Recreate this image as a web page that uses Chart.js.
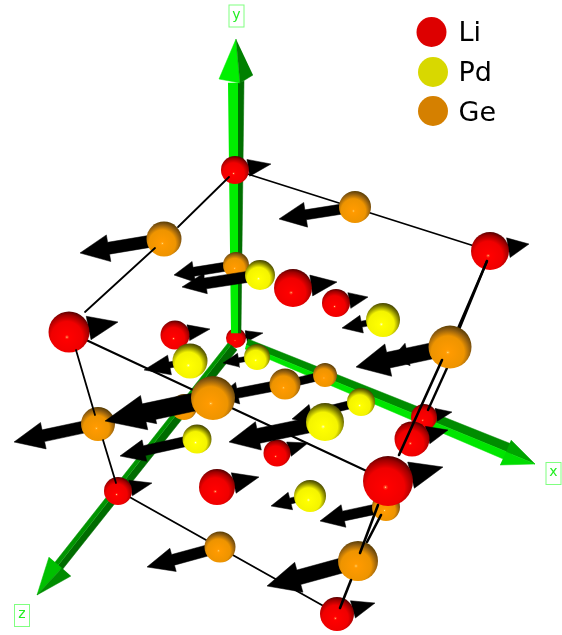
<!DOCTYPE html>
<html><head><meta charset="utf-8">
<style>html,body{margin:0;padding:0;background:#fff}#w{width:562px;height:635px;position:relative}</style>
<script src="https://cdn.jsdelivr.net/npm/chart.js@4"></script>
</head><body><div id="w"><canvas id="c"></canvas></div>
<script>
// Atoms: centre, apparent radius, displacement-arrow tip, head length, head width, shaft width
const liX=[235,490,69,293,336,175,236,424,412,277,217,118,388,337];
const liY=[170,251,332,288,303,335,338,417,439,453,487,491,481,614];
const liR=[14,19,20.5,19,14,14.5,10,13,17.5,13.5,18,14,25,17];
const liTipX=[271,529,118,337,368,210,263,452,448,308,259,152,443,375];
const liTipY=[164,244,322,282,297,329,333,412,430,443,477,483,467,603];
const liHeadL=[23,21,30,26,19,22,17,16,21,20,26,22,33,23];
const liHeadW=[17,20,24,21,16,16,11,13,18,15,21,16,27,18];
const liShaft=[5,7,8,7,5,5,4,5,7,5,7,5,9,6];

const pdX=[260,383,190,257,361,325,197,310];
const pdY=[275,320,361,357,402,422,439,496];
const pdR=[15,17,17.5,13,14,19,14.5,16];
const pdTipX=[182,342,144,223,292,229,120,271];
const pdTipY=[287,328,370,363,419,442,456,506];
const pdHeadL=[24,20,26,16,20,30,25,20];
const pdHeadW=[21,18,20,14,20,29,22,18];
const pdShaft=[11,6,6,5,8,15,10,6];

const geX=[355,164,236,449,450,285,325,213,184,98,386,220,358];
const geY=[207,239,265,345,347,384,375,398,407,424,507,547,561];
const geR=[16,17.5,13,12,21.5,15.5,12,22,13,17,14,15.5,20];
const geTipX=[279,80,174,392,356,218,283,105,133,14,320,147,267];
const geTipY=[219,253,275,358,367,397,385,421,419,442,521,567,586];
const geHeadL=[27,29,20,16,33,20,15,40,22,30,24,27,33];
const geHeadW=[25,27,21,23,33,22,14,35,20,27,23,24,31];
const geShaft=[10,12,9,10,16,10,8,18,8,12,10,11,15];

// Unit-cell edges (visible pieces) and their stacking depth
const edgeX0=[235,69,117,229,155,76,103,487,487,442,447,378,381,351];
const edgeY0=[170,332,490,177,248,350,440,261,261,360,368,505,515,580];
const edgeX1=[490,388,336,178,85,95,116,456,458,399,428,360,367,340];
const edgeY1=[251,481,613,227,312,415,483,333,332,455,410,553,542,608];
const edgeW=[1.8,2,1.8,1.8,1.8,1.8,1.8,2.4,2.4,2.6,2.4,2.6,2.6,2.6];
const edgeDepth=[11,11,11,30,30,30,30,20,20,30,14,30,19,30];

// Coordinate axes: facets of shaft and head
const axisFacetX=[
 [228,238,238,231],[238,244,241,238],[236,219,240],[236,240,253],
 [248,514,512,246],[246,512,508,245],[511,535,506],[506,535,500],
 [231,237,62,56],[231,56,52,228],[49,37,62],[62,37,71]];
const axisFacetY=[
 [83,83,333,333],[83,81,333,333],[39,79,83],[39,83,75],
 [339,445,454,345],[345,454,461,349],[440,464,452],[452,464,465],
 [345,350,570,568],[345,568,566,343],[557,595,568],[568,595,576]];
const axisFacetColor=['#00ee00','#006f00','#00f000','#008000',
 '#008c00','#00e600','#00a400','#00dc00',
 '#006c00','#009400','#00c000','#008c00'];

const axisLabels=['y','x','z'];
const axisLabelX=[236.5,553.5,22];
const axisLabelY=[16,473.5,615.5];
const legendNames=['Li','Pd','Ge'];
const legendX=[431.5,433,433];
const legendY=[32,72,111];
const legendColor=['#dd0000','#d8d800','#d58000'];
const legendTextX=458.5;
const legendBaseline=[41,81,121];

const shades={
 li:['#ffe0a0','#ff4020','#ff0000','#f00000','#a00000','#500000'],
 pd:['#ffffff','#ffff60','#ffff00','#f4f400','#7c7c00','#404000'],
 ge:['#fff8a0','#ffa820','#ff9a00','#ee9400','#8a5a10','#553a00']
};

function ball(key){
  const s=shades[key];
  return c=>{
    if(!c.raw) return s[3];
    const ch=c.chart, px=ch.scales.x.getPixelForValue(c.raw.x), py=ch.scales.y.getPixelForValue(c.raw.y), r=c.raw.r;
    if(!Number.isFinite(px)||!Number.isFinite(py)) return s[3];
    const g=ch.ctx.createRadialGradient(px-0.1*r,py+0.25*r,0,px-0.1*r,py+0.25*r,1.27*r);
    g.addColorStop(0,s[0]);g.addColorStop(0.035,s[1]);g.addColorStop(0.09,s[2]);
    g.addColorStop(0.6,s[3]);g.addColorStop(0.85,s[4]);g.addColorStop(1,s[5]);
    return g;
  };
}
function poly(xs,ys){return xs.map((x,i)=>({x,y:ys[i]}));}
function polyDs(pts,color){
  return {type:'line',data:pts,fill:'shape',backgroundColor:color,borderColor:color,borderWidth:0.5,pointRadius:0,tension:0,parsing:false,normalized:false};
}
function arrowPts(x,y,tx,ty,l,w,s){
  const d=Math.hypot(tx-x,ty-y),ux=(tx-x)/d,uy=(ty-y)/d,nx=-uy,ny=ux,bx=tx-ux*l,by=ty-uy*l;
  return [
   {x:x+nx*s/2,y:y+ny*s/2},{x:bx+nx*s/2,y:by+ny*s/2},{x:bx+nx*w/2,y:by+ny*w/2},{x:tx,y:ty},
   {x:bx-nx*w/2,y:by-ny*w/2},{x:bx-nx*s/2,y:by-ny*s/2},{x:x-nx*s/2,y:y-ny*s/2}];
}
const items=[];
function addAtoms(key,X,Y,R,TX,TY,HL,HW,SW){
  X.forEach((x,i)=>{
    items.push({d:R[i]-0.01,ds:polyDs(arrowPts(x,Y[i],TX[i],TY[i],HL[i],HW[i],SW[i]),'#000')});
    items.push({d:R[i],ds:{type:'bubble',data:[{x,y:Y[i],r:R[i]}],backgroundColor:ball(key),borderWidth:0,hoverRadius:0}});
  });
}
addAtoms('li',liX,liY,liR,liTipX,liTipY,liHeadL,liHeadW,liShaft);
addAtoms('pd',pdX,pdY,pdR,pdTipX,pdTipY,pdHeadL,pdHeadW,pdShaft);
addAtoms('ge',geX,geY,geR,geTipX,geTipY,geHeadL,geHeadW,geShaft);
edgeX0.forEach((x,i)=>items.push({d:edgeDepth[i],ds:{type:'line',data:[{x,y:edgeY0[i]},{x:edgeX1[i],y:edgeY1[i]}],borderColor:'#000',borderWidth:edgeW[i],pointRadius:0,fill:false,parsing:false,borderCapStyle:'round'}}));
axisFacetX.forEach((xs,i)=>items.push({d:10.5,ds:polyDs(poly(xs,axisFacetY[i]),axisFacetColor[i])}));
legendNames.forEach((n,i)=>items.push({d:40,ds:{type:'bubble',label:n,data:[{x:legendX[i],y:legendY[i],r:15}],backgroundColor:legendColor[i],borderWidth:0,hoverRadius:0}}));
items.sort((a,b)=>a.d-b.d);
const datasets=items.map((it,i)=>Object.assign(it.ds,{order:items.length-i}));

const textPlugin={id:'texts',afterDatasetsDraw(ch){
  const g=ch.ctx,sx=ch.scales.x,sy=ch.scales.y;
  g.save();
  g.textAlign='center';g.textBaseline='middle';g.font='14px "DejaVu Sans"';
  axisLabels.forEach((t,i)=>{
    const px=sx.getPixelForValue(axisLabelX[i]),py=sy.getPixelForValue(axisLabelY[i]);
    g.strokeStyle='#80ff80';g.lineWidth=1;g.strokeRect(px-7.5,py-11,15,22);
    g.fillStyle='#22ee22';g.fillText(t,px,py-1);
  });
  g.textAlign='left';g.textBaseline='alphabetic';g.font='27px "DejaVu Sans"';g.fillStyle='#000';
  legendNames.forEach((t,i)=>g.fillText(t,sx.getPixelForValue(legendTextX),sy.getPixelForValue(legendBaseline[i])));
  g.restore();
}};

new Chart(document.getElementById('c'),{
  type:'scatter',
  data:{datasets},
  plugins:[textPlugin],
  options:{
    responsive:true,maintainAspectRatio:false,animation:false,events:[],
    layout:{padding:0,autoPadding:false},
    scales:{
      x:{type:'linear',min:0,max:562,display:false},
      y:{type:'linear',min:0,max:635,reverse:true,display:false}
    },
    plugins:{legend:{display:false},tooltip:{enabled:false},title:{display:false}},
    elements:{line:{tension:0}}
  }
});
</script></body></html>
